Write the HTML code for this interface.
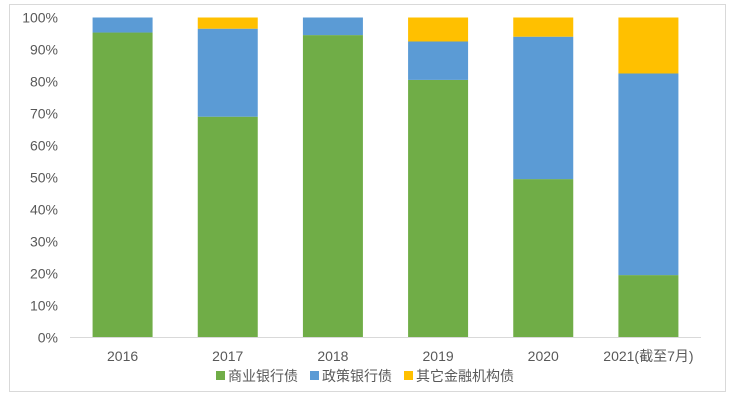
<!DOCTYPE html>
<html><head><meta charset="utf-8"><style>
body{margin:0;background:#fff;}
svg text{font-family:"Liberation Sans","Noto Sans CJK SC",sans-serif;fill:#595959;}
</style></head><body>
<svg width="736" height="400">
<rect x="9.5" y="4.5" width="716" height="387" fill="#fff" stroke="#d9d9d9"/>
<g id="yaxis"></g>
<g id="bars"></g>
<line x1="70" x2="701" y1="337.5" y2="337.5" stroke="#d9d9d9"/>
<g id="xaxis"></g>
<g font-size="14">
 <g><rect x="216" y="371" width="9" height="9" fill="#70AD47"/><text x="228" y="381">商业银行债</text></g>
 <g><rect x="310" y="371" width="9" height="9" fill="#5B9BD5"/><text x="322" y="381">政策银行债</text></g>
 <g><rect x="404" y="371" width="9" height="9" fill="#FFC000"/><text x="416" y="381">其它金融机构债</text></g>
</g>
</svg>
<script>
const categories=["2016","2017","2018","2019","2020","2021(截至7月)"];
const commercial=[95.3,69,94.5,80.5,49.5,19.5];
const policy=[4.7,27.5,5.5,12,44.5,63];
const other=[0,3.5,0,7.5,6,17.5];
const yTicks=[0,10,20,30,40,50,60,70,80,90,100];
const NS="http://www.w3.org/2000/svg";
const x0=70,x1=701,y0=337.5,y1=17.5;
const band=(x1-x0)/categories.length;
const y=v=>y0-(y0-y1)*v/100;
const xc=i=>x0+band*(i+0.5);
const bars=document.getElementById('bars'),ya=document.getElementById('yaxis'),xa=document.getElementById('xaxis');
yTicks.forEach(t=>{const e=document.createElementNS(NS,'text');


e.setAttribute('x',58);e.setAttribute('y',y(t)+5);e.setAttribute('text-anchor','end');e.setAttribute('font-size','14');e.textContent=t+'%';ya.appendChild(e);});
const series=[[commercial,'#70AD47','commercial'],[policy,'#5B9BD5','policy'],[other,'#FFC000','other']];
categories.forEach((c,i)=>{let base=0;
series.forEach(([arr,col,nm])=>{const v=arr[i];if(v>0){const r=document.createElementNS(NS,'rect');


r.setAttribute('x',xc(i)-30);r.setAttribute('width',60);r.setAttribute('y',y(base+v));r.setAttribute('height',y(base)-y(base+v));r.setAttribute('fill',col);bars.appendChild(r);}base+=v;});
const t=document.createElementNS(NS,'text');


t.setAttribute('x',xc(i));t.setAttribute('y',361);t.setAttribute('text-anchor','middle');t.setAttribute('font-size','14');t.textContent=c;xa.appendChild(t);});
</script>
</body></html>
